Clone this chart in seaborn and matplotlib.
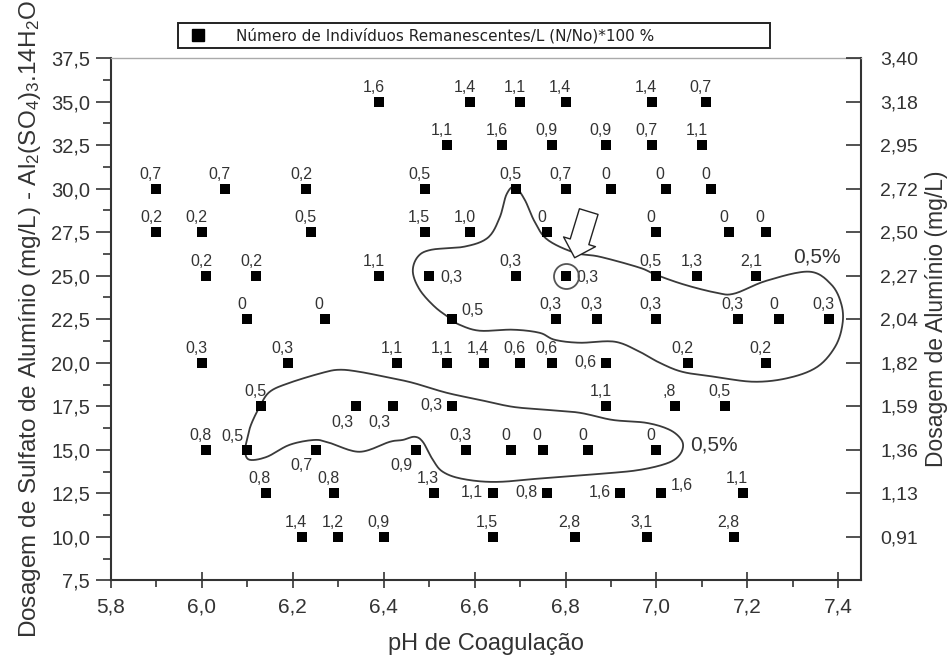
import numpy as np
import pandas as pd
import matplotlib
matplotlib.use('Agg')
import matplotlib.pyplot as plt
import seaborn as sns
from matplotlib.lines import Line2D
from matplotlib.ticker import FuncFormatter, MultipleLocator

# ==========================================
# 1. Dados
# ==========================================
ph = [
    6.39, 6.59, 6.70, 6.80, 6.99, 7.11,                          # 35,0
    6.54, 6.66, 6.77, 6.89, 6.99, 7.10,                          # 32,5
    5.90, 6.05, 6.23, 6.49, 6.69, 6.80, 6.90, 7.02, 7.12,        # 30,0
    5.90, 6.00, 6.24, 6.49, 6.59, 6.76, 7.00, 7.16, 7.24,        # 27,5
    6.01, 6.12, 6.39, 6.50, 6.69, 6.80, 7.00, 7.09, 7.22,        # 25,0
    6.10, 6.27, 6.55, 6.78, 6.87, 7.00, 7.18, 7.27, 7.38,        # 22,5
    6.00, 6.19, 6.43, 6.54, 6.62, 6.70, 6.77, 6.89, 7.07, 7.24,  # 20,0
    6.13, 6.34, 6.42, 6.55, 6.89, 7.04, 7.15,                    # 17,5
    6.01, 6.10, 6.25, 6.47, 6.58, 6.68, 6.75, 6.85, 7.00,        # 15,0
    6.14, 6.29, 6.51, 6.64, 6.76, 6.92, 7.01, 7.19,              # 12,5
    6.22, 6.30, 6.40, 6.64, 6.82, 6.98, 7.17,                    # 10,0
]
dose_levels = [35.0, 32.5, 30.0, 27.5, 25.0, 22.5, 20.0, 17.5, 15.0, 12.5, 10.0]
points_per_level = [6, 6, 9, 9, 9, 9, 10, 7, 9, 8, 7]
remaining = [
    "1,6", "1,4", "1,1", "1,4", "1,4", "0,7",
    "1,1", "1,6", "0,9", "0,9", "0,7", "1,1",
    "0,7", "0,7", "0,2", "0,5", "0,5", "0,7", "0", "0", "0",
    "0,2", "0,2", "0,5", "1,5", "1,0", "0", "0", "0", "0",
    "0,2", "0,2", "1,1", "0,3", "0,3", "0,3", "0,5", "1,3", "2,1",
    "0", "0", "0,5", "0,3", "0,3", "0,3", "0,3", "0", "0,3",
    "0,3", "0,3", "1,1", "1,1", "1,4", "0,6", "0,6", "0,6", "0,2", "0,2",
    "0,5", "0,3", "0,3", "0,3", "1,1", ",8", "0,5",
    "0,8", "0,5", "0,7", "0,9", "0,3", "0", "0", "0", "0",
    "0,8", "0,8", "1,3", "1,1", "0,8", "1,6", "1,6", "1,1",
    "1,4", "1,2", "0,9", "1,5", "2,8", "3,1", "2,8",
]
# posição de cada rótulo em relação ao ponto
label_side = (
    ["t"] * 6 + ["t"] * 6 + ["t"] * 9 + ["t"] * 9
    + ["t", "t", "t", "r", "t", "r", "t", "t", "t"]
    + ["t", "t", "ur", "t", "t", "t", "t", "t", "t"]
    + ["t", "t", "t", "t", "t", "t", "t", "l", "t", "t"]
    + ["t", "bl", "bl", "l", "t", "t", "t"]
    + ["t", "ul", "bl", "bl", "t", "t", "t", "t", "t"]
    + ["t", "t", "t", "l", "l", "l", "ur", "t"]
    + ["t"] * 7
)

# eixo direito: alumínio (mg/L)
left_ticks = [10.0, 12.5, 15.0, 17.5, 20.0, 22.5, 25.0, 27.5, 30.0, 32.5, 35.0, 37.5]
al_labels = ["0,91", "1,13", "1,36", "1,59", "1,82", "2,04", "2,27",
             "2,50", "2,72", "2,95", "3,18", "3,40"]

# contornos de 0,5 % (desenhados à mão no original)
upper_ph = [6.688, 6.710, 6.732, 6.760, 6.820, 6.875, 6.963, 6.998, 7.062, 7.132,
            7.171, 7.242, 7.336, 7.385, 7.407, 7.409, 7.393, 7.354, 7.292, 7.215,
            7.127, 7.057, 7.007, 6.963, 6.908, 6.831, 6.776, 6.743, 6.684, 6.611,
            6.567, 6.547, 6.512, 6.479, 6.464, 6.475, 6.505, 6.578, 6.629, 6.655,
            6.670]
upper_dose = [30.11, 29.37, 28.10, 27.07, 26.32, 26.09, 25.46, 25.06, 24.48, 24.02,
              23.97, 24.71, 25.23, 24.48, 23.33, 22.18, 20.92, 19.77, 19.14, 18.91,
              19.20, 19.48, 20.00, 20.63, 21.21, 21.15, 21.32, 21.72, 21.90, 21.84,
              22.18, 22.53, 23.22, 24.20, 25.23, 26.09, 26.49, 26.67, 27.18, 28.33,
              29.66]
lower_ph = [6.127, 6.149, 6.193, 6.266, 6.303, 6.347, 6.413, 6.464, 6.538, 6.611,
            6.684, 6.758, 6.831, 6.903, 6.978, 7.029, 7.055, 7.057, 7.042, 7.013,
            6.963, 6.903, 6.758, 6.648, 6.574, 6.530, 6.508, 6.486, 6.468, 6.442,
            6.413, 6.347, 6.281, 6.248, 6.193, 6.143, 6.105, 6.095, 6.099, 6.108]
lower_dose = [17.47, 18.33, 18.85, 19.43, 19.60, 19.48, 19.14, 18.85, 18.28, 17.87,
              17.47, 17.30, 17.13, 16.72, 16.55, 16.15, 15.57, 15.00, 14.48, 14.14,
              13.85, 13.68, 13.39, 13.16, 13.33, 13.74, 14.43, 15.46, 15.75, 15.57,
              15.46, 14.89, 15.40, 15.57, 15.29, 14.60, 14.43, 14.89, 15.57, 16.44]

dose = np.repeat(dose_levels, points_per_level)
df = pd.DataFrame({"ph": ph, "dose": dose, "txt": remaining, "side": label_side})

# ==========================================
# 2. Estilo
# ==========================================
sns.set_style("ticks")
plt.rcParams['font.family'] = ['Liberation Sans', 'DejaVu Sans']
plt.rcParams['mathtext.fontset'] = 'custom'
plt.rcParams['mathtext.rm'] = 'Liberation Sans'
plt.rcParams['mathtext.it'] = 'Liberation Sans:italic'
plt.rcParams['mathtext.bf'] = 'Liberation Sans:bold'

txt_col = '#333333'
fig = plt.figure(figsize=(9.51, 6.58), dpi=100)
ax = fig.add_axes([0.1167, 0.1178, 0.7887, 0.7941])

sns.scatterplot(data=df, x="ph", y="dose", marker="s", s=62, color="black",
                linewidth=0, ax=ax, zorder=5, legend=False)

offsets = {
    "t": ((-4, 5), "center", "bottom"),
    "r": ((8, -1.5), "left", "center"),
    "l": ((-7, 0.5), "right", "center"),
    "bl": ((-2, -6), "right", "top"),
    "ul": ((-3, 4), "right", "bottom"),
    "ur": ((7, 6), "left", "center"),
}
for _, r in df.iterrows():
    off, ha, va = offsets[r["side"]]
    ax.annotate(r["txt"], (r["ph"], r["dose"]), xytext=off, textcoords="offset points",
                ha=ha, va=va, fontsize=11.5, color=txt_col)


def smooth_closed(xs, ys, n=14):
    p = np.column_stack([xs, ys])
    N = len(p)
    t = np.linspace(0, 1, n, endpoint=False)[:, None]
    segs = []
    for i in range(N):
        p0, p1, p2, p3 = p[i - 1], p[i], p[(i + 1) % N], p[(i + 2) % N]
        segs.append(0.5 * (2 * p1 + (-p0 + p2) * t + (2 * p0 - 5 * p1 + 4 * p2 - p3) * t ** 2
                           + (-p0 + 3 * p1 - 3 * p2 + p3) * t ** 3))
    out = np.vstack(segs + [segs[0][:1]])
    return out[:, 0], out[:, 1]


for cx, cy in [(upper_ph, upper_dose), (lower_ph, lower_dose)]:
    sx, sy = smooth_closed(cx, cy)
    ax.plot(sx, sy, color='#3a3a3a', lw=1.3, zorder=3)

ax.text(7.30, 26.1, "0,5%", fontsize=15, color=txt_col, va='center', ha='left')
ax.text(7.073, 15.3, "0,5%", fontsize=15, color=txt_col, va='center', ha='left')

# ponto destacado e seta
ax.plot([6.80], [25.0], marker='o', markersize=18, mfc='none', mec='#555555', mew=1.3, zorder=6)
ax.annotate("", xy=(6.820, 26.03), xytext=(6.851, 28.68),
            arrowprops=dict(arrowstyle="simple,head_length=0.6,head_width=1.2,tail_width=0.7",
                            fc='white', ec='#222222', lw=1.0, shrinkA=0, shrinkB=0,
                            mutation_scale=20), zorder=7)

# ==========================================
# 3. Eixos
# ==========================================
ax.set_xlim(5.8, 7.45)
ax.set_ylim(7.5, 37.5)
ax.xaxis.set_major_locator(MultipleLocator(0.2))
ax.xaxis.set_minor_locator(MultipleLocator(0.1))
ax.yaxis.set_major_locator(MultipleLocator(2.5))
ax.yaxis.set_minor_locator(MultipleLocator(1.25))
comma = FuncFormatter(lambda v, p: f"{v:.1f}".replace(".", ","))
ax.xaxis.set_major_formatter(comma)
ax.yaxis.set_major_formatter(comma)
ax.set_xticks([5.8, 6.0, 6.2, 6.4, 6.6, 6.8, 7.0, 7.2, 7.4])

ax.tick_params(axis='x', which='major', direction='inout', length=12, width=1.2,
               labelsize=15, colors='#333333', pad=6)
ax.tick_params(axis='x', which='minor', direction='out', length=5, width=1.2, colors='#333333')
ax.tick_params(axis='y', which='major', direction='out', length=11, width=1.2,
               labelsize=14.5, colors='#333333', pad=4)
ax.tick_params(axis='y', which='minor', direction='out', length=6, width=1.2, colors='#333333')

for s in ['left', 'bottom', 'right']:
    ax.spines[s].set_color('#333333')
    ax.spines[s].set_linewidth(1.5)
ax.spines['top'].set_color('#aaaaaa')
ax.spines['top'].set_linewidth(1.0)

ax.set_xlabel("pH de Coagulação", fontsize=17, color=txt_col, labelpad=12)
ax.set_ylabel("Dosagem de Sulfato de Alumínio (mg/L) - Al$_2$(SO$_4$)$_3$.14H$_2$O",
              fontsize=17.5, color=txt_col, labelpad=6)

ax2 = ax.twinx()
ax2.set_ylim(ax.get_ylim())
ax2.set_yticks(left_ticks)
ax2.set_yticklabels(al_labels)
ax2.tick_params(axis='y', direction='in', length=11, width=1.2, labelsize=14,
                colors='#333333', pad=14)
ax2.tick_params(axis='y', which='minor', length=0)
for s in ax2.spines.values():
    s.set_visible(False)
ax2.set_ylabel("Dosagem de Alumínio (mg/L)", fontsize=16.5, color=txt_col, labelpad=5)

# legenda
handle = Line2D([], [], marker='s', color='black', linestyle='none', markersize=8)
leg = ax.legend([handle], ["Número de Indivíduos Remanescentes/L (N/No)*100 %"],
                loc='lower left', bbox_to_anchor=(0.089, 1.019, 0.79, 0.05), mode='expand',
                fancybox=False, edgecolor='#222222', framealpha=1, borderaxespad=0,
                prop={'family': 'DejaVu Sans', 'size': 11}, handletextpad=1.5,
                borderpad=0.3)
leg.get_frame().set_linewidth(1.4)
for t in leg.get_texts():
    t.set_color('#222222')

plt.savefig("out.png", dpi=100)
